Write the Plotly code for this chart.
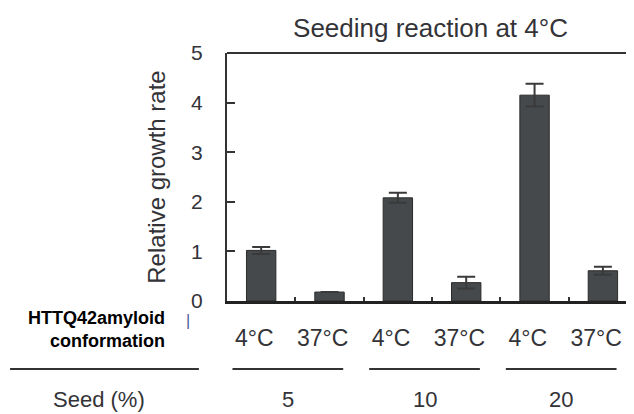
import plotly.graph_objects as go

# ---- data ----
conformations = ["4°C", "37°C", "4°C", "37°C", "4°C", "37°C"]
growth_rate = [1.02, 0.18, 2.08, 0.37, 4.15, 0.61]
growth_err = [0.07, 0.0, 0.10, 0.12, 0.23, 0.08]
seed_labels = ["5", "10", "20"]
seed_groups = [[0, 1], [2, 3], [4, 5]]
y_ticks = [0, 1, 2, 3, 4, 5]

FONT = "Liberation Sans, Arial, sans-serif"
TXT = "#333338"
xpos = list(range(len(conformations)))
label_shift = -0.1  # category labels sit slightly left of bar centres

fig = go.Figure()
fig.add_trace(go.Bar(
    x=xpos, y=growth_rate, width=0.43,
    marker=dict(color="#45494b", line=dict(color="#2a2a2a", width=1)),
    error_y=dict(type="data", array=growth_err, visible=True,
                 color="#3a3a3a", thickness=2, width=9),
    showlegend=False,
))

shapes = []
annotations = []
# top frame line
shapes.append(dict(type="line", xref="paper", yref="paper", x0=0, x1=1.01, y0=1, y1=1,
                   line=dict(color="#333", width=2)))
# left header rule
shapes.append(dict(type="line", xref="paper", yref="paper", x0=-0.533, x1=-0.069,
                   y0=-0.274, y1=-0.274, line=dict(color="#333", width=2)))
for lab, grp in zip(seed_labels, seed_groups):
    x0 = min(grp) - 0.42
    x1 = max(grp) + 0.2
    shapes.append(dict(type="line", xref="x", yref="paper", x0=x0, x1=x1,
                       y0=-0.274, y1=-0.274, line=dict(color="#333", width=2)))
    annotations.append(dict(text=lab, xref="x", yref="paper", x=(x0 + x1) / 2, y=-0.399,
                            showarrow=False, xanchor="center", yanchor="middle",
                            font=dict(family=FONT, size=22, color=TXT)))

annotations.append(dict(text="Seed (%)", xref="paper", yref="paper", x=-0.314, y=-0.399,
                        showarrow=False, xanchor="center", yanchor="middle",
                        font=dict(family=FONT, size=22, color=TXT)))
annotations.append(dict(text="<b>HTTQ42amyloid</b><br><b>conformation</b>", xref="paper", yref="paper",
                        x=-0.148, y=-0.113, showarrow=False, xanchor="right", yanchor="middle",
                        align="right", font=dict(family=FONT, size=18, color="black")))
annotations.append(dict(text="|", xref="paper", yref="paper", x=-0.095, y=-0.078,
                        showarrow=False, xanchor="center", yanchor="middle",
                        font=dict(family=FONT, size=16, color="#4a5a9a")))

# page body adds an 8px offset; figure is sized/positioned to compensate
fig.update_layout(
    width=626, height=406,
    margin=dict(l=219, r=0, t=45, b=113),
    paper_bgcolor="white", plot_bgcolor="white",
    font=dict(family=FONT, color=TXT),
    title=dict(text="Seeding reaction at 4°C", x=0.5, xref="paper", xanchor="center",
               y=1 - 20 / 406, yref="container", yanchor="middle",
               font=dict(family=FONT, size=26, color=TXT)),
    bargap=0.5,
    shapes=shapes,
    annotations=annotations,
)
fig.update_xaxes(
    range=[-0.5, 5.455], showgrid=False, zeroline=False,
    showline=True, linecolor="#222", linewidth=3,
    tickmode="array", tickvals=[x + label_shift for x in xpos], ticktext=conformations, ticks="",
    ticklabelstandoff=14,
    tickfont=dict(family=FONT, size=23, color=TXT),
    minor=dict(tickmode="array", tickvals=[i + 0.5 for i in xpos[:-1]], ticks="inside",
               ticklen=4, tickwidth=1.5, tickcolor="#333"),
)
fig.update_yaxes(
    range=[0, 5], showgrid=False, zeroline=False,
    showline=True, linecolor="#333", linewidth=2,
    tickmode="array", tickvals=y_ticks, ticks="inside", ticklen=8, tickwidth=1.5, tickcolor="#333",
    ticklabelstandoff=18,
    tickfont=dict(family=FONT, size=21, color=TXT),
    title=dict(text="Relative growth rate", standoff=19,
               font=dict(family=FONT, size=24, color=TXT)),
)

fig.write_html("out.html")
